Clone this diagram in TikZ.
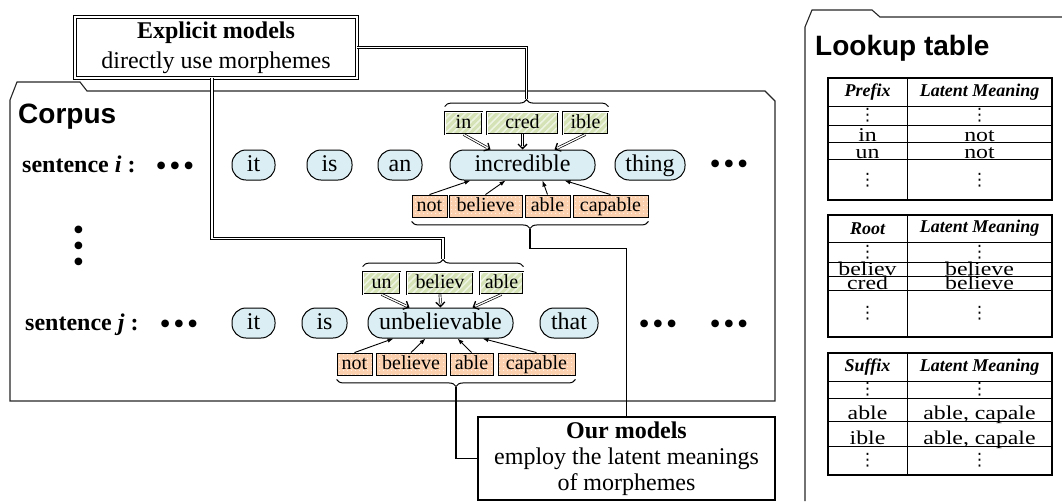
\documentclass[tikz,border=0pt]{standalone}
\usepackage{fontspec}
\setmainfont{Liberation Serif}
\newfontfamily\arialfont{Liberation Sans}
\newfontfamily\dejavu{DejaVu Sans}
\usetikzlibrary{arrows.meta,patterns.meta,decorations.pathreplacing,calc}
\definecolor{wordfill}{HTML}{DAEEF3}
\definecolor{greenfill}{HTML}{D4E2B6}
\definecolor{greenstripe}{HTML}{EEF4E2}
\definecolor{orangefill}{HTML}{FBD0AE}
\definecolor{orangedot}{HTML}{FFF1E6}
\newcommand\mydots{{\dejavu ⋮}}
\newcommand\wide[1]{\scalebox{1.22}[1]{#1}}
\newcommand\bigdots{\textbullet\hspace{2.5pt}\textbullet\hspace{2.5pt}\textbullet}
\begin{document}
\begin{tikzpicture}[x=1pt,y=-1pt,
  frame/.style={line width=1.1pt, black!85},
  word/.style={draw, line width=1pt, fill=wordfill, rounded corners=14pt, minimum height=30pt, inner sep=0pt, text height=17pt, text depth=5pt, font=\fontsize{24}{24}\selectfont},
  morph/.style={minimum height=22pt, inner sep=0pt, text height=14pt, text depth=4pt, font=\fontsize{20}{20}\selectfont},
  topmorph/.style={morph, draw, double, double distance=1pt, line width=0.8pt,
    preaction={fill=greenfill},
    preaction={pattern={Lines[angle=45,distance=5pt,line width=1.6pt]}, pattern color=greenstripe}},
  botmorph/.style={morph, draw, line width=0.9pt,
    preaction={fill=orangefill},
    preaction={pattern={Dots[distance=4pt,radius=0.7pt]}, pattern color=orangedot}},
  dline/.style={double, double distance=1.4pt, line width=0.9pt},
  darr/.style={double, double distance=1.3pt, line width=0.7pt, shorten >=4pt},
  darrtip/.style={-{Straight Barb[length=4.5pt,width=9pt]}, line width=1.3pt},
  sarr/.style={-{Latex[length=6pt,width=4.5pt]}, line width=0.9pt},
  brace/.style={decorate, decoration={brace, amplitude=7pt}, line width=1pt},
  conn/.style={line width=1.1pt},
  bigbox/.style={draw, line width=1.1pt, fill=white, align=center, inner sep=0pt},
  dots/.style={font=\fontsize{32}{32}\selectfont, inner sep=0pt, anchor=base},
  sent/.style={font=\fontsize{24}{24}\selectfont\bfseries, inner sep=0pt, anchor=base west},
  tcell/.style={font=\fontsize{19.5}{19.5}\selectfont, inner sep=0pt, anchor=base},
  thead/.style={font=\fontsize{18}{18}\selectfont\bfseries\itshape, inner sep=0pt},
  tdots/.style={font=\fontsize{17}{17}\selectfont, inner sep=0pt},
  tabout/.style={line width=1.4pt},
  tabin/.style={line width=1pt}
]
\useasboundingbox (0,0) rectangle (1062,501);

% frames
\draw[frame] (10,100) -- (17,82) -- (80,82) -- (87,91) -- (765,91) -- (775,101) -- (775,401) -- (10,401) -- cycle;
\draw[frame] (805,501) -- (805,27) -- (812,10) -- (872,10) -- (880,17) -- (1062,17);
\node[font=\arialfont\fontsize{28}{28}\selectfont\bfseries, anchor=west, inner sep=0pt] (corpus) at (18,117) {Corpus};
\node[font=\arialfont\fontsize{28}{28}\selectfont\bfseries, anchor=west, inner sep=0pt] (lookup) at (815,48) {Lookup table};

% sentence labels
\node[sent] (si) at (22,172) {sentence \textit{i} :};
\node[sent] (sj) at (25,330) {sentence \textit{j} :};
\node[dots] (di1) at (175,176) {\bigdots};
\node[dots] (dj1) at (179,334) {\bigdots};
\node[dots] (di2) at (729,174) {\bigdots};
\node[dots] (dj2) at (658,334) {\bigdots};
\node[dots] (dj3) at (729,334) {\bigdots};
\node[font=\fontsize{32}{32}\selectfont, inner sep=0pt, rotate=90] (vd) at (82,246) {\textbullet\hspace{4.5pt}\textbullet\hspace{4.5pt}\textbullet};

% words row i
\node[word, minimum width=43pt] (i1) at (253.5,165) {it};
\node[word, minimum width=45pt] (i2) at (329.5,165) {is};
\node[word, minimum width=44pt] (i3) at (400,165) {an};
\node[word, minimum width=145pt] (wi) at (522.5,165) {incredible};
\node[word, minimum width=70pt] (i5) at (650,165) {thing};
% words row j
\node[word, minimum width=43pt] (j1) at (253.5,323) {it};
\node[word, minimum width=45pt] (j2) at (324.5,323) {is};
\node[word, minimum width=145pt] (wj) at (440.5,323) {unbelievable};
\node[word, minimum width=58pt] (j4) at (569,323) {that};

% morphemes row i
\node[topmorph, minimum width=37pt] (ti1) at (463.5,123) {in};
\node[topmorph, minimum width=71pt] (ti2) at (522.5,123) {cred};
\node[topmorph, minimum width=45pt] (ti3) at (585.5,123) {ible};
\node[botmorph, minimum width=35pt] (bi1) at (429.5,206) {not};
\node[botmorph, minimum width=73pt] (bi2) at (485.5,206) {believe};
\node[botmorph, minimum width=45pt] (bi3) at (547.5,206) {able};
\node[botmorph, minimum width=75pt] (bi4) at (610.5,206) {capable};
% morphemes row j
\node[topmorph, minimum width=37pt] (tj1) at (381.5,283) {un};
\node[topmorph, minimum width=66pt] (tj2) at (440,283) {believ};
\node[topmorph, minimum width=43pt] (tj3) at (501.5,283) {able};
\node[botmorph, minimum width=35pt] (bj1) at (354.5,364) {not};
\node[botmorph, minimum width=70pt] (bj2) at (411,364) {believe};
\node[botmorph, minimum width=43pt] (bj3) at (471.5,364) {able};
\node[botmorph, minimum width=77pt] (bj4) at (536.5,364) {capable};

% arrows row i
\coordinate (ai1) at ($(wi.north)+(-32,0)$);
\coordinate (ai2) at (wi.north);
\coordinate (ai3) at ($(wi.north)+(32,0)$);
\foreach \s/\t in {ti1/ai1, ti2/ai2, ti3/ai3} {
  \draw[darr] (\s.south) -- (\t);
  \draw[darrtip] ($(\t)!3pt!(\s.south)$) -- (\t);
}
\coordinate (ci1) at ($(wi.south)+(-52,0)$);
\coordinate (ci2) at ($(wi.south)+(-17,0)$);
\coordinate (ci3) at ($(wi.south)+(20,0)$);
\coordinate (ci4) at ($(wi.south)+(42,0)$);
\foreach \s/\t in {bi1/ci1, bi2/ci2, bi3/ci3, bi4/ci4}
  \draw[sarr] (\s.north) -- (\t);
% arrows row j
\coordinate (aj1) at ($(wj.north)+(-31,0)$);
\coordinate (aj2) at (wj.north);
\coordinate (aj3) at ($(wj.north)+(32,0)$);
\foreach \s/\t in {tj1/aj1, tj2/aj2, tj3/aj3} {
  \draw[darr] (\s.south) -- (\t);
  \draw[darrtip] ($(\t)!3pt!(\s.south)$) -- (\t);
}
\coordinate (cj1) at ($(wj.south)+(-47,0)$);
\coordinate (cj2) at ($(wj.south)+(-15,0)$);
\coordinate (cj3) at ($(wj.south)+(17,0)$);
\coordinate (cj4) at ($(wj.south)+(42,0)$);
\foreach \s/\t in {bj1/cj1, bj2/cj2, bj3/cj3, bj4/cj4}
  \draw[sarr] (\s.north) -- (\t);

% braces
\draw[brace] ($(ti1.north west)+(0,-5)$) -- ($(ti3.north east)+(0,-5)$);
\coordinate (bti) at ($($(ti1.north west)!0.5!(ti3.north east)$)+(0,-13)$);
\draw[brace] ($(bi4.south east)+(0,4)$) -- ($(bi1.south west)+(0,4)$);
\coordinate (bbi) at ($($(bi1.south west)!0.5!(bi4.south east)$)+(0,12)$);
\draw[brace] ($(tj1.north west)+(0,-5)$) -- ($(tj3.north east)+(0,-5)$);
\coordinate (btj) at ($($(tj1.north west)!0.5!(tj3.north east)$)+(0,-13)$);
\draw[brace] ($(bj4.south east)+(0,4)$) -- ($(bj1.south west)+(0,4)$);
\coordinate (bbj) at ($($(bj1.south west)!0.5!(bj4.south east)$)+(0,12)$);

% explanation boxes
\node[bigbox, double, double distance=1.6pt, line width=0.9pt, minimum width=282pt, minimum height=61pt, font=\fontsize{24}{30}\selectfont] (ex) at (216,47.5) {\textbf{Explicit models}\\directly use morphemes};
\node[bigbox, minimum width=297pt, minimum height=83pt, font=\fontsize{24}{26}\selectfont] (our) at (626.5,458.5) {\textbf{Our models}\\employ the latent meanings\\of morphemes};

% connectors
\draw[dline] ([xshift=-4pt]ex.south) |- ([yshift=20pt]btj) -- (btj);
\draw[dline] (ex.east) -| (bti);
\draw[conn] (bbi) -- ([yshift=-19pt]bbi) -| (our.north);
\draw[conn] (bbj) |- (our.west);

% lookup tables
% prefix
\draw[tabout] (828,78) rectangle (1052,200);
\draw[tabin] (907,78) -- (907,200);
\foreach \y in {106,125,142,159} \draw[tabin] (828,\y) -- (1052,\y);
\node[thead] (p0a) at (867.5,92) {Prefix};
\node[thead] (p0b) at (979.5,92) {Latent Meaning};
\node[tdots] (p1a) at (867.5,115.5) {\mydots};
\node[tdots] (p1b) at (979.5,115.5) {\mydots};
\node[tcell] (p2a) at (867.5,141) {\wide{in}};
\node[tcell] (p2b) at (979.5,141) {\wide{not}};
\node[tcell] (p3a) at (867.5,158) {\wide{un}};
\node[tcell] (p3b) at (979.5,158) {\wide{not}};
\node[tdots] (p4a) at (867.5,180) {\mydots};
\node[tdots] (p4b) at (979.5,180) {\mydots};
% root
\draw[tabout] (828,215) rectangle (1052,337);
\draw[tabin] (907,215) -- (907,337);
\foreach \y in {242,262,276,290} \draw[tabin] (828,\y) -- (1052,\y);
\node[thead] (r0a) at (867.5,228.5) {Root};
\node[thead] (r0b) at (979.5,228.5) {Latent Meaning};
\node[tdots] (r1a) at (867.5,252) {\mydots};
\node[tdots] (r1b) at (979.5,252) {\mydots};
\node[tcell] (r2a) at (867.5,275) {\wide{believ}};
\node[tcell] (r2b) at (979.5,275) {\wide{believe}};
\node[tcell] (r3a) at (867.5,289) {\wide{cred}};
\node[tcell] (r3b) at (979.5,289) {\wide{believe}};
\node[tdots] (r4a) at (867.5,313.5) {\mydots};
\node[tdots] (r4b) at (979.5,313.5) {\mydots};
% suffix
\draw[tabout] (828,353) rectangle (1052,475);
\draw[tabin] (907,353) -- (907,475);
\foreach \y in {381,398,421,446} \draw[tabin] (828,\y) -- (1052,\y);
\node[thead] (s0a) at (867.5,367) {Suffix};
\node[thead] (s0b) at (979.5,367) {Latent Meaning};
\node[tdots] (s1a) at (867.5,389.5) {\mydots};
\node[tdots] (s1b) at (979.5,389.5) {\mydots};
\node[tcell] (s2a) at (867.5,419) {\wide{able}};
\node[tcell] (s2b) at (979.5,419) {\wide{able, capale}};
\node[tcell] (s3a) at (867.5,444) {\wide{ible}};
\node[tcell] (s3b) at (979.5,444) {\wide{able, capale}};
\node[tdots] (s4a) at (867.5,460.5) {\mydots};
\node[tdots] (s4b) at (979.5,460.5) {\mydots};
\end{tikzpicture}
\end{document}
